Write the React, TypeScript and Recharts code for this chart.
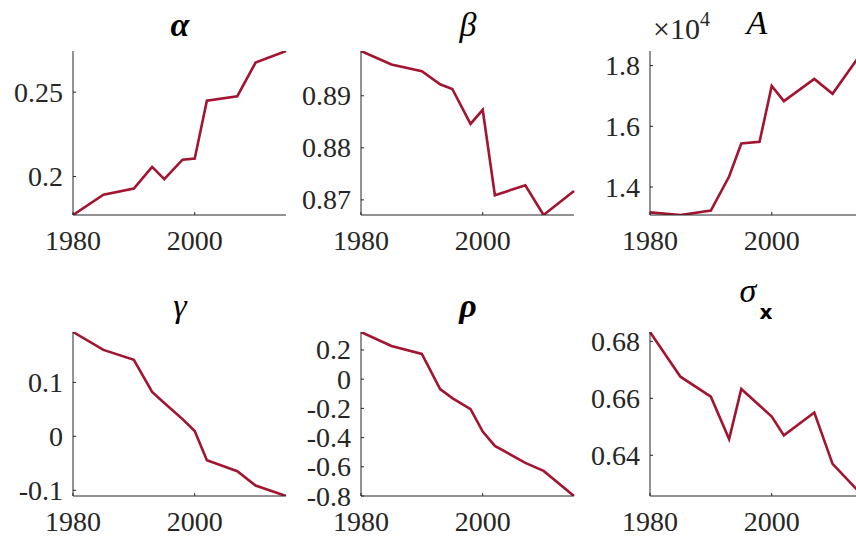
import { LineChart, Line, XAxis, YAxis } from 'recharts'

const years = [1980, 1985, 1990, 1993, 1995, 1998, 2000, 2002, 2007, 2010, 2015]
const alpha = [0.1772, 0.1892, 0.1929, 0.2057, 0.1985, 0.21, 0.2106, 0.2449, 0.2476, 0.2675, 0.2744]
const beta = [0.8986, 0.896, 0.8947, 0.8922, 0.8913, 0.8846, 0.8873, 0.8709, 0.8728, 0.8671, 0.8717]
const bigA = [13167, 13080, 13223, 14348, 15433, 15489, 17331, 16830, 17560, 17070, 18480]
const gamma = [0.1935, 0.1603, 0.1419, 0.0823, 0.062, 0.032, 0.01, -0.0443, -0.0646, -0.091, -0.1105]
const rho = [0.323, 0.227, 0.173, -0.068, -0.13, -0.205, -0.359, -0.457, -0.573, -0.628, -0.8]
const sigmaX = [0.6833, 0.6676, 0.6606, 0.6457, 0.6633, 0.6575, 0.6536, 0.647, 0.655, 0.637, 0.6257]

const xTicks = [1980, 2000]
const alphaTicks = [0.2, 0.25]
const betaTicks = [0.87, 0.88, 0.89]
const aTicks = [14000, 16000, 18000]
const gammaTicks = [-0.1, 0, 0.1]
const rhoTicks = [-0.8, -0.6, -0.4, -0.2, 0, 0.2]
const sigmaTicks = [0.64, 0.66, 0.68]

const rows = years.map((year, i) => ({
  year,
  alpha: alpha[i],
  beta: beta[i],
  bigA: bigA[i],
  gamma: gamma[i],
  rho: rho[i],
  sigmaX: sigmaX[i],
}))

// layout
const AX = '#262626'
const RED = '#A2142F'
const SERIF = 'Liberation Serif, DejaVu Serif, Times New Roman, serif'
const SANS = 'DejaVu Sans, Liberation Sans, sans-serif'
const YW = 70
const MT = 45
const MR = 20
const XH = 45
const PW = 213
const PH = 164
const CW = YW + PW + MR
const CH = MT + PH + XH
const PB = MT + PH
const TL = 3

const labelStyle = { fontFamily: SERIF, fontSize: 28 }

const BottomTick = (props: any) => {
  const { x, payload } = props
  return (
    <g>
      <line x1={x} x2={x} y1={PB} y2={PB - TL} stroke={AX} />
      <text x={x} y={PB + 35} textAnchor="middle" style={labelStyle} fill={AX}>
        {payload.value}
      </text>
    </g>
  )
}

const TopTick = (props: any) => {
  const { x } = props
  return <line x1={x} x2={x} y1={MT} y2={MT + TL} stroke={AX} />
}

const makeLeftTick = (fmt: (v: number) => string) => (props: any) => {
  const { y, payload } = props
  return (
    <g>
      <line x1={YW} x2={YW + TL} y1={y} y2={y} stroke={AX} />
      <text x={YW - 10} y={y} dominantBaseline="central" textAnchor="end" style={labelStyle} fill={AX}>
        {fmt(payload.value)}
      </text>
    </g>
  )
}

const RightTick = (props: any) => {
  const { y } = props
  return <line x1={YW + PW} x2={YW + PW - TL} y1={y} y2={y} stroke={AX} />
}

interface PanelProps {
  dataKey: string
  yTicks: number[]
  fmt: (v: number) => string
  left: number
  top: number
}

function Panel({ dataKey, yTicks, fmt, left, top }: PanelProps) {
  const vals = rows.map((r: any) => r[dataKey] as number)
  const lo = Math.min(...vals)
  const hi = Math.max(...vals)
  return (
    <div style={{ position: 'absolute', left: left - YW, top: top - MT }}>
      <LineChart width={CW} height={CH} data={rows} margin={{ top: MT, right: MR, left: 0, bottom: 0 }}>
        <XAxis xAxisId="b" dataKey="year" type="number" domain={[1980, 2015]} ticks={xTicks} interval={0}
          height={XH} stroke={AX} tickLine={false} tick={<BottomTick />} />
        <XAxis xAxisId="t" orientation="top" dataKey="year" type="number" domain={[1980, 2015]} ticks={xTicks}
          interval={0} height={0} stroke={AX} tickLine={false} tick={<TopTick />} />
        <YAxis yAxisId="l" type="number" domain={[lo, hi]} allowDataOverflow ticks={yTicks} interval={0}
          width={YW} stroke={AX} tickLine={false} tick={makeLeftTick(fmt)} />
        <YAxis yAxisId="r" orientation="right" type="number" domain={[lo, hi]} allowDataOverflow ticks={yTicks}
          interval={0} width={0} stroke={AX} tickLine={false} tick={<RightTick />} />
        <Line xAxisId="b" yAxisId="l" type="linear" dataKey={dataKey} stroke={RED} strokeWidth={2.6}
          dot={false} isAnimationActive={false} />
        <Line xAxisId="t" yAxisId="r" type="linear" dataKey={dataKey} stroke="none" dot={false}
          isAnimationActive={false} />
      </LineChart>
    </div>
  )
}

const plain = (v: number) => String(v)
const scaled = (v: number) => (v / 10000).toFixed(1)

export default function App() {
  const title = { fontFamily: SERIF, fontSize: 34, fontStyle: 'italic' as const }
  const boldTitle = { ...title, fontWeight: 'bold' as const }
  return (
    <div style={{ position: 'absolute', left: 0, top: 0, width: 856, height: 536, overflow: 'hidden', background: '#fff' }}>
      <Panel dataKey="alpha" yTicks={alphaTicks} fmt={plain} left={73} top={51} />
      <Panel dataKey="beta" yTicks={betaTicks} fmt={plain} left={361} top={51} />
      <Panel dataKey="bigA" yTicks={aTicks} fmt={scaled} left={650} top={51} />
      <Panel dataKey="gamma" yTicks={gammaTicks} fmt={plain} left={73} top={332} />
      <Panel dataKey="rho" yTicks={rhoTicks} fmt={plain} left={361} top={332} />
      <Panel dataKey="sigmaX" yTicks={sigmaTicks} fmt={plain} left={650} top={332} />
      <svg width={856} height={536} style={{ position: 'absolute', left: 0, top: 0, pointerEvents: 'none' }}>
        <text x={180} y={36} textAnchor="middle" style={boldTitle} fill="#000">α</text>
        <text x={468} y={36} textAnchor="middle" style={title} fill="#000">β</text>
        <text x={757} y={34} textAnchor="middle" style={title} fill="#000">A</text>
        <text x={653} y={39} style={{ fontFamily: SERIF, fontSize: 30 }} fill={AX}>
          ×10<tspan style={{ fontSize: 20 }} dy={-13}>4</tspan>
        </text>
        <text x={180} y={317} textAnchor="middle" style={title} fill="#000">γ</text>
        <text x={468} y={317} textAnchor="middle" style={boldTitle} fill="#000">ρ</text>
        <text x={748} y={302} textAnchor="middle" style={title} fill="#000">σ</text>
        <text x={766} y={319} textAnchor="middle" style={{ fontFamily: SANS, fontWeight: 'bold', fontSize: 20 }} fill="#000">x</text>
      </svg>
    </div>
  )
}
